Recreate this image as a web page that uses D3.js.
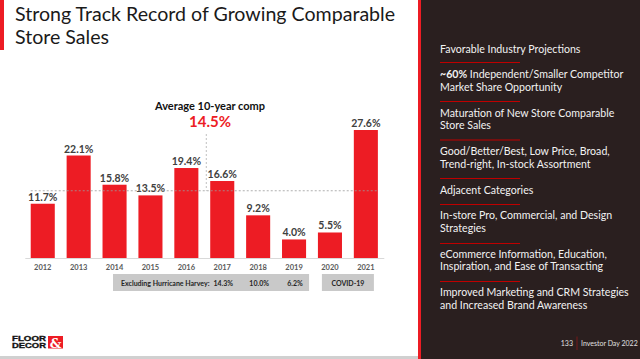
<!DOCTYPE html>
<html>
<head>
<meta charset="utf-8">
<script src="https://cdn.jsdelivr.net/npm/d3@7/dist/d3.min.js"></script>
<style>
  html, body { margin: 0; padding: 0; background: #fff; }
  svg { display: block; font-family: Lato, "Open Sans", sans-serif; }
</style>
</head>
<body>
<div id="chart"></div>
<script>
// Comparable store sales growth by year
const years = ["2012", "2013", "2014", "2015", "2016", "2017", "2018", "2019", "2020", "2021"];
const comps = [11.7, 22.1, 15.8, 13.5, 19.4, 16.6, 9.2, 4.0, 5.5, 27.6];
const avgComp = 14.5;

// Excluding Hurricane Harvey
const harveyYears = ["2017", "2018", "2019"];
const harveyComps = [14.3, 10.0, 6.2];

// Right panel drivers
const drivers = [
  ["Favorable Industry Projections"],
  ["~60% Independent/Smaller Competitor", "Market Share Opportunity"],
  ["Maturation of New Store Comparable", "Store Sales"],
  ["Good/Better/Best, Low Price, Broad,", "Trend-right, In-stock Assortment"],
  ["Adjacent Categories"],
  ["In-store Pro, Commercial, and Design", "Strategies"],
  ["eCommerce Information, Education,", "Inspiration, and Ease of Transacting"],
  ["Improved Marketing and CRM Strategies", "and Increased Brand Awareness"]
];

const W = 640, H = 359;
const red = "#ed1c24";

const svg = d3.select("#chart").append("svg")
  .attr("width", W)
  .attr("height", H);

// background bits
svg.append("rect").attr("x", 0).attr("y", 0).attr("width", W).attr("height", H).attr("fill", "#fff");
svg.append("rect").attr("x", 0).attr("y", 0).attr("width", 4).attr("height", 50).attr("fill", red);
svg.append("rect").attr("x", 0).attr("y", 356).attr("width", W).attr("height", 3).attr("fill", "#d0d0d0");

// Title
svg.append("text")
  .attr("x", 15)
  .attr("y", 21)
  .attr("font-size", 19.6)
  .attr("fill", "#1a1a1a")
  .selectAll("tspan")
  .data(["Strong Track Record of Growing Comparable", "Store Sales"])
  .enter().append("tspan")
  .attr("x", 15)
  .attr("dy", (d, i) => i ? 22.5 : 0)
  .text(d => d);

// Scales
const x = d3.scaleBand()
  .domain(years)
  .range([24.8, 383.8])
  .paddingInner(0.33)
  .paddingOuter(0.165);

const y = d3.scaleLinear()
  .domain([0, 27.6])
  .range([258, 130]);

const chart = svg.append("g");

// x axis
const xAxis = d3.axisBottom(x).tickSize(0).tickPadding(7);
const axisG = chart.append("g")
  .attr("transform", "translate(0," + y(0) + ")")
  .call(xAxis);
axisG.select(".domain").attr("stroke", "#d9d9d9").attr("stroke-width", 1);
axisG.selectAll("text")
  .attr("font-family", "Lato, sans-serif")
  .attr("font-size", 7.5)
  .attr("font-weight", "bold")
  .attr("fill", "#595959");

// Bars
const data = years.map((yr, i) => ({ year: yr, value: comps[i] }));

chart.selectAll(".bar")
  .data(data)
  .enter().append("rect")
  .attr("class", "bar")
  .attr("x", d => x(d.year))
  .attr("y", d => y(d.value))
  .attr("width", x.bandwidth())
  .attr("height", d => y(0) - y(d.value))
  .attr("fill", red);

chart.selectAll(".val")
  .data(data)
  .enter().append("text")
  .attr("class", "val")
  .attr("x", d => x(d.year) + x.bandwidth() / 2)
  .attr("y", d => y(d.value) - 3)
  .attr("text-anchor", "middle")
  .attr("font-size", 10.5)
  .attr("font-weight", "bold")
  .attr("fill", "#404040")
  .text(d => d.value.toFixed(1) + "%");

// Average line
const avgY = y(avgComp);
const splitX = (x("2016") + x.bandwidth() + x("2017")) / 2 + 2;
chart.append("line")
  .attr("x1", x(years[0]))
  .attr("x2", x(years[years.length - 1]) + x.bandwidth())
  .attr("y1", avgY).attr("y2", avgY)
  .attr("stroke", "#9a9a9a")
  .attr("stroke-width", 0.8)
  .attr("stroke-dasharray", "2,2");
chart.append("line")
  .attr("x1", splitX).attr("x2", splitX)
  .attr("y1", 134).attr("y2", avgY)
  .attr("stroke", "#b0b0b0")
  .attr("stroke-width", 0.8)
  .attr("stroke-dasharray", "2,2");

chart.append("text")
  .attr("x", 210).attr("y", 110)
  .attr("text-anchor", "middle")
  .attr("font-size", 11)
  .attr("font-weight", "bold")
  .attr("fill", "#111")
  .text("Average 10-year comp");
chart.append("text")
  .attr("x", 210).attr("y", 127)
  .attr("text-anchor", "middle")
  .attr("font-size", 15)
  .attr("font-weight", "bold")
  .attr("fill", red)
  .text(avgComp.toFixed(1) + "%");

// Harvey box
const boxY = 274, boxH = 17;
const harveyRight = x("2019") + x.bandwidth() + 3;
chart.append("rect")
  .attr("x", 113).attr("y", boxY)
  .attr("width", harveyRight - 113).attr("height", boxH)
  .attr("fill", "#c9c9c9");
chart.append("text")
  .attr("x", 121).attr("y", boxY + 11.5)
  .attr("font-size", 7)
  .attr("font-weight", "bold")
  .attr("fill", "#262626")
  .text("Excluding Hurricane Harvey:");
chart.selectAll(".harvey")
  .data(harveyYears.map((yr, i) => ({ year: yr, value: harveyComps[i] })))
  .enter().append("text")
  .attr("class", "harvey")
  .attr("x", d => x(d.year) + x.bandwidth() / 2 + 1)
  .attr("y", boxY + 11.5)
  .attr("text-anchor", "middle")
  .attr("font-size", 7)
  .attr("font-weight", "bold")
  .attr("fill", "#262626")
  .text(d => d.value.toFixed(1) + "%");

// COVID box
const covidMid = (x("2020") + x("2021") + x.bandwidth()) / 2;
chart.append("rect")
  .attr("x", covidMid - 26).attr("y", boxY)
  .attr("width", 52).attr("height", boxH)
  .attr("fill", "#c9c9c9");
chart.append("text")
  .attr("x", covidMid).attr("y", boxY + 11.5)
  .attr("text-anchor", "middle")
  .attr("font-size", 7)
  .attr("font-weight", "bold")
  .attr("fill", "#262626")
  .text("COVID-19");

// Logo
const logo = svg.append("g").attr("transform", "translate(12,336)");
const logoText = logo.append("text")
  .attr("font-family", "Liberation Sans, Arial, sans-serif")
  .attr("font-size", 6.3).attr("font-weight", "bold").attr("fill", "#111")
  .attr("stroke", "#111").attr("stroke-width", 0.3);
logoText.append("tspan").attr("x", 0).attr("y", 5.2)
  .attr("textLength", 34).attr("lengthAdjust", "spacingAndGlyphs").text("FLOOR");
logoText.append("tspan").attr("x", 0).attr("y", 12.3)
  .attr("textLength", 34).attr("lengthAdjust", "spacingAndGlyphs").text("DECOR");
logo.append("rect").attr("x", 36).attr("y", 0).attr("width", 15).attr("height", 12.5).attr("fill", red);
logo.append("text").attr("x", 43.5).attr("y", 11.5)
  .attr("text-anchor", "middle")
  .attr("font-family", "DejaVu Serif, serif")
  .attr("font-size", 13).attr("font-weight", "bold").attr("fill", "#fff")
  .text("&");

// Right panel
const panel = svg.append("g");
panel.append("rect").attr("x", 418).attr("y", 0).attr("width", W - 418).attr("height", H).attr("fill", "#2a1f1f");
panel.append("rect").attr("x", 418).attr("y", 0).attr("width", 3).attr("height", H).attr("fill", red);

const lineStarts = [53, 78, 116.5, 155, 194, 219, 257.5, 296];
const sepYs = [62.5, 101.5, 140, 178.5, 204.5, 243.5, 281.5];

drivers.forEach((lines, i) => {
  const t = panel.append("text")
    .attr("x", 440).attr("y", lineStarts[i])
    .attr("font-size", 10.6)
    .attr("fill", "#f2f2f2");
  lines.forEach((ln, j) => {
    const ts = t.append("tspan").attr("x", 440).attr("dy", j ? 12.6 : 0);
    if (ln.startsWith("~60%")) {
      ts.append("tspan").attr("font-weight", "bold").text("~60%");
      ts.append("tspan").text(ln.slice(4));
    } else {
      ts.text(ln);
    }
  });
});

panel.selectAll(".sep")
  .data(sepYs)
  .enter().append("line")
  .attr("class", "sep")
  .attr("x1", 440).attr("x2", 520)
  .attr("y1", d => d).attr("y2", d => d)
  .attr("stroke", "#c00000")
  .attr("stroke-width", 1.2);

// footer
panel.append("text").attr("x", 573).attr("y", 345.5)
  .attr("text-anchor", "end")
  .attr("font-size", 7).attr("fill", "#e0e0e0").text("133");
panel.append("line").attr("x1", 577).attr("x2", 577).attr("y1", 336.5).attr("y2", 350)
  .attr("stroke", "#8b1a1a").attr("stroke-width", 0.8);
panel.append("text").attr("x", 581).attr("y", 345.5)
  .attr("font-size", 7).attr("fill", "#e0e0e0").text("Investor Day 2022");
</script>
</body>
</html>
